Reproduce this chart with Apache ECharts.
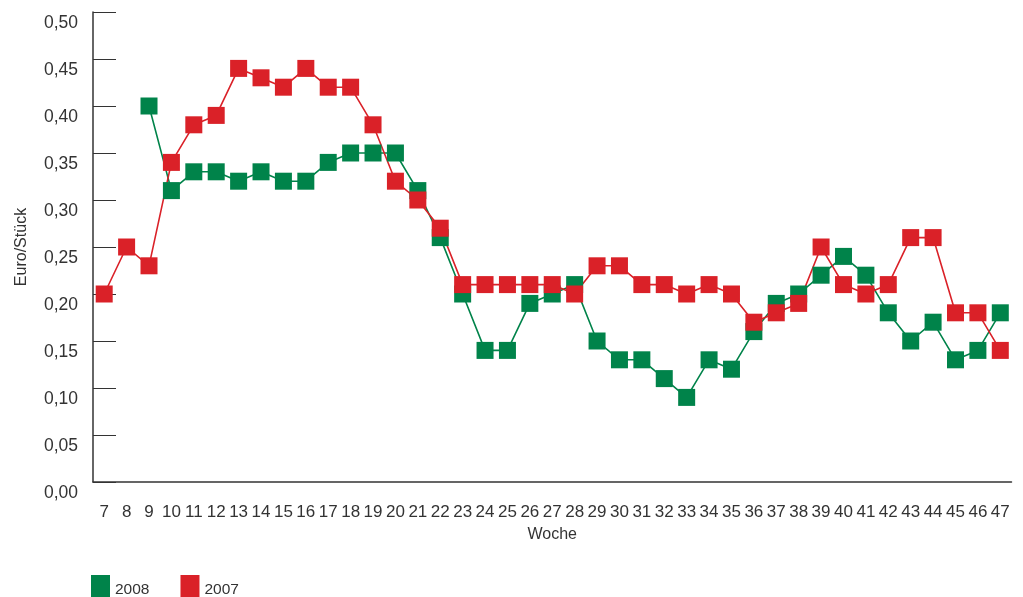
<!DOCTYPE html>
<html>
<head>
<meta charset="utf-8">
<script src="https://cdn.jsdelivr.net/npm/echarts@6/dist/echarts.min.js"></script>
<style>html,body{margin:0;padding:0;background:#fff;}#c{width:1023px;height:597px;}</style>
</head>
<body>
<div id="c"></div>
<script>
var weeks = ['7','8','9','10','11','12','13','14','15','16','17','18','19','20','21','22','23','24','25','26','27','28','29','30','31','32','33','34','35','36','37','38','39','40','41','42','43','44','45','46','47'];
var s2008 = [null,null,0.40,0.31,0.33,0.33,0.32,0.33,0.32,0.32,0.34,0.35,0.35,0.35,0.31,0.26,0.20,0.14,0.14,0.19,0.20,0.21,0.15,0.13,0.13,0.11,0.09,0.13,0.12,0.16,0.19,0.20,0.22,0.24,0.22,0.18,0.15,0.17,0.13,0.14,0.18];
var s2007 = [0.20,0.25,0.23,0.34,0.38,0.39,0.44,0.43,0.42,0.44,0.42,0.42,0.38,0.32,0.30,0.27,0.21,0.21,0.21,0.21,0.21,0.20,0.23,0.23,0.21,0.21,0.20,0.21,0.20,0.17,0.18,0.19,0.25,0.21,0.20,0.21,0.26,0.26,0.18,0.18,0.14];
var GREEN = '#00834A', RED = '#DA2128', INK = '#333333';
var chart = echarts.init(document.getElementById('c'));
chart.setOption({
  animation: false,
  textStyle: {fontFamily: 'Liberation Sans, Arial, sans-serif'},
  grid: {left: 93, right: 11.5, top: 12, bottom: 115, containLabel: false},
  legend: {
    left: 86, top: 570, itemWidth: 19, itemHeight: 30, itemGap: 31,
    icon: 'rect',
    textStyle: {fontSize: 15.5, color: INK},
    data: ['2008', '2007']
  },
  xAxis: {
    type: 'category', data: weeks, boundaryGap: true,
    name: 'Woche', nameLocation: 'middle', nameGap: 45,
    nameTextStyle: {fontSize: 16, color: INK},
    axisLine: {lineStyle: {color: INK, width: 1.5}},
    axisTick: {inside: true, length: 11, lineStyle: {color: INK, width: 1}},
    axisLabel: {interval: 0, fontSize: 17, color: INK, margin: 22},
    splitLine: {show: false}
  },
  yAxis: {
    type: 'value', min: 0, max: 0.5, interval: 0.05,
    name: 'Euro/Stück', nameLocation: 'middle', nameGap: 63,
    nameTextStyle: {fontSize: 16, color: INK},
    axisLine: {show: true, lineStyle: {color: INK, width: 1.5}},
    axisTick: {show: true, inside: true, length: 23, lineStyle: {color: INK, width: 1}},
    axisLabel: {
      fontSize: 17.5, color: INK, margin: 15, verticalAlign: 'top', padding: [2, 0, 0, 0],
      formatter: function (v) { return v.toFixed(2).replace('.', ','); }
    },
    splitLine: {show: false}
  },
  series: [
    {name: '2008', type: 'line', data: s2008, symbol: 'rect', symbolSize: 17,
     itemStyle: {color: GREEN}, lineStyle: {color: GREEN, width: 1.6}},
    {name: '2007', type: 'line', data: s2007, symbol: 'rect', symbolSize: 17,
     itemStyle: {color: RED}, lineStyle: {color: RED, width: 1.6}}
  ]
});
</script>
</body>
</html>
